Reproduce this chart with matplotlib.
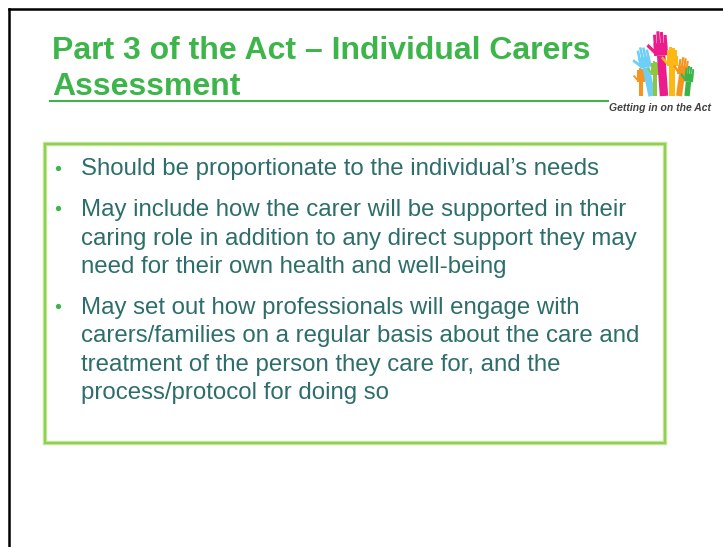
import numpy as np
import matplotlib.pyplot as plt
from matplotlib.patches import Polygon, Rectangle

W, H = 723, 547

title_lines = ["Part 3 of the Act \u2013 Individual Carers", "Assessment"]
bullets = [
    ["Should be proportionate to the individual\u2019s needs"],
    ["May include how the carer will be supported in their",
     "caring role in addition to any direct support they may",
     "need for their own health and well-being"],
    ["May set out how professionals will engage with",
     "carers/families on a regular basis about the care and",
     "treatment of the person they care for, and the",
     "process/protocol for doing so"],
]
logo_caption = "Getting in on the Act"

# logo hands: base x, fingertip y, hand width, tilt in degrees (+ leans left)
hand_x = [641, 652, 655, 664, 672, 679, 687]
hand_top = [68, 46, 61, 31, 47, 57, 66]
hand_w = [8, 12, 8, 14, 11, 10, 9]
hand_tilt = [0, 12, 0, 4, 0, -8, -6]
hand_colors = ["#F7941D", "#6DCFF6", "#8DC63F", "#EC1C8C", "#FDB913", "#F7941D", "#39B54A"]

TITLE_GREEN = "#3DB54A"
TEXT_TEAL = "#2D6E6B"
BOX_GREEN = "#92D050"


def draw_hand(ax, bx, top, w, tilt, color, base_y=96):
    L = base_y - top
    wrist = L - 1.75 * w
    palm_top = L - 0.85 * w
    parts = []
    parts.append([(-0.3 * w, 0), (0.3 * w, 0), (0.3 * w, wrist), (-0.3 * w, wrist)])
    parts.append([(-0.5 * w, wrist), (0.5 * w, wrist), (0.5 * w, palm_top), (-0.5 * w, palm_top)])
    for fx, fh in zip([-0.37, -0.12, 0.13, 0.38], [0.62, 0.85, 0.78, 0.55]):
        parts.append([((fx - 0.11) * w, palm_top - 0.05 * w), ((fx + 0.11) * w, palm_top - 0.05 * w),
                      ((fx + 0.11) * w, palm_top + fh * w), ((fx - 0.11) * w, palm_top + fh * w)])
    parts.append([(-0.45 * w, wrist + 0.1 * w), (-0.45 * w, wrist + 0.45 * w),
                  (-0.85 * w, wrist + 0.9 * w), (-1.0 * w, wrist + 0.72 * w)])
    a = np.radians(tilt)
    c, s = np.cos(a), np.sin(a)
    for pts in parts:
        pts = np.array(pts)
        xr = pts[:, 0] * c - pts[:, 1] * s
        yr = pts[:, 0] * s + pts[:, 1] * c
        ax.add_patch(Polygon(np.column_stack([bx + xr, base_y - yr]), closed=True,
                             facecolor=color, edgecolor="none"))


fig = plt.figure(figsize=(7.23, 5.47), dpi=100)
ax = fig.add_axes([0, 0, 1, 1])
ax.set_xlim(0, W)
ax.set_ylim(H, 0)
ax.axis("off")

# slide frame (left and top edges)
ax.plot([9, 9], [H, 9], color="black", lw=1.8, solid_capstyle="projecting")
ax.plot([9, W], [9, 9], color="black", lw=1.8, solid_capstyle="projecting")

# title
for i, line in enumerate(title_lines):
    ax.text(52, 59 + i * 36, line, fontsize=23, fontweight="bold", color=TITLE_GREEN,
            family="Liberation Sans", va="baseline", ha="left")
ax.plot([50, 608], [101, 101], color=TITLE_GREEN, lw=1.5)

# logo
for bx, top, w, tilt, col in zip(hand_x, hand_top, hand_w, hand_tilt, hand_colors):
    draw_hand(ax, bx, top, w, tilt, col)
ax.text(660, 111, logo_caption, fontsize=7.5, fontweight="bold", style="italic",
        color="#404040", family="Liberation Sans", ha="center", va="baseline")

# content box
ax.add_patch(Rectangle((45, 144), 620, 299, fill=False, edgecolor="#C8E6A5", lw=3.2))
ax.add_patch(Rectangle((45, 144), 620, 299, fill=False, edgecolor=BOX_GREEN, lw=1.6))

y = 175.5
for para in bullets:
    ax.plot(58, y - 8, marker="o", ms=3.8, color=TITLE_GREEN, mec="none")
    for line in para:
        ax.text(81, y, line, fontsize=17.3, color=TEXT_TEAL, family="Liberation Sans",
                va="baseline", ha="left")
        y += 28.4
    y += 12.5

fig.savefig("out.png", dpi=100)
